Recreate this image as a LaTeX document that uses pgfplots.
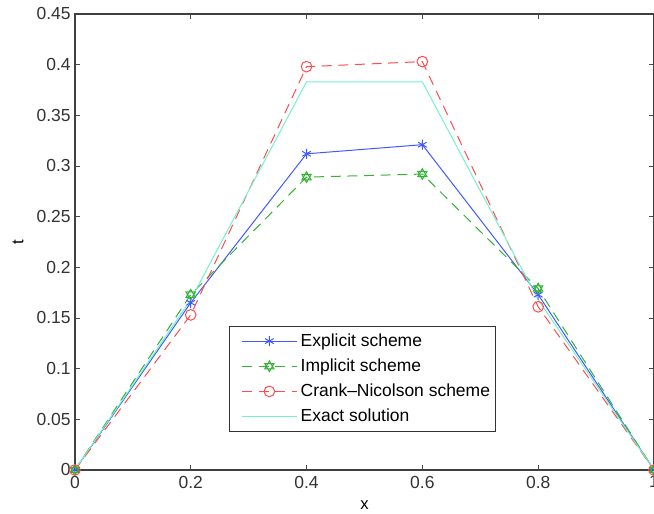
\documentclass[border=0pt]{standalone}
\usepackage{fontspec}
\setmainfont{Liberation Sans}
\usepackage{pgfplots}
\pgfplotsset{compat=1.18}
\usetikzlibrary{plotmarks}

\definecolor{mblue}{rgb}{0.25,0.35,1}
\definecolor{mgreen}{rgb}{0.2,0.7,0.2}
\definecolor{mred}{rgb}{1,0.3,0.3}
\definecolor{mexact}{rgb}{0.45,0.95,0.8}

% hexagram marker like MATLAB 'h'
\pgfdeclareplotmark{hexagram}{%
  \pgfpathmoveto{\pgfqpointpolar{90}{\pgfplotmarksize}}%
  \pgfpathlineto{\pgfqpointpolar{210}{\pgfplotmarksize}}%
  \pgfpathlineto{\pgfqpointpolar{330}{\pgfplotmarksize}}%
  \pgfpathclose
  \pgfpathmoveto{\pgfqpointpolar{270}{\pgfplotmarksize}}%
  \pgfpathlineto{\pgfqpointpolar{30}{\pgfplotmarksize}}%
  \pgfpathlineto{\pgfqpointpolar{150}{\pgfplotmarksize}}%
  \pgfpathclose
  \pgfusepathqstroke}

\begin{document}
\begin{tikzpicture}
\begin{axis}[
    scale only axis,
    width=348pt, height=274pt,
    xmin=0, xmax=1, ymin=0, ymax=0.45,
    xtick={0,0.2,...,1}, ytick={0,0.05,...,0.45},
    tick align=inside,
    major tick length=3pt,
    axis line style={black!75, line width=0.8pt},
    every tick/.style={black!70},
    tick label style={font=\fontsize{10.5}{12}\selectfont, text=black!80},
    /pgf/number format/assume math mode=true,
    yticklabel style={/pgf/number format/fixed, /pgf/number format/precision=2, xshift=1pt},
    xticklabel style={/pgf/number format/fixed},
    xlabel={x}, ylabel={t},
    label style={font=\fontsize{10.5}{12}\selectfont, text=black!80},
    every axis x label/.style={at={(axis description cs:0.5,-0.077)}, anchor=center},
    every axis y label/.style={at={(axis description cs:-0.098,0.5)}, anchor=center, rotate=90},
    legend style={at={(0.266,0.083)}, anchor=south west,
        font=\fontsize{10.5}{12}\selectfont, draw=black!80, line width=0.6pt,
        inner sep=1.5pt, cells={anchor=west},
        nodes={inner ysep=3pt, inner xsep=2pt}},
    legend cell align=left,
    legend image code/.code={%
      \path (0cm,0cm);
      \draw[mark repeat=2, mark phase=2, line width=0.6pt]
        plot coordinates {(0.2cm,0cm) (0.78cm,0cm) (1.36cm,0cm)};},
]
\addplot[mblue, line width=0.6pt, mark=asterisk, mark size=3pt, mark options={solid}]
  coordinates {(0,0) (0.2,0.165) (0.4,0.312) (0.6,0.321) (0.8,0.173) (1,0)};
\addplot[mgreen, line width=0.6pt, dash pattern=on 6pt off 4pt, mark=hexagram, mark size=3.2pt, mark options={solid}]
  coordinates {(0,0) (0.2,0.173) (0.4,0.289) (0.6,0.292) (0.8,0.179) (1,0)};
\addplot[mred, line width=0.6pt, dash pattern=on 6pt off 4pt, mark=o, mark size=3.2pt, mark options={solid}]
  coordinates {(0,0) (0.2,0.153) (0.4,0.398) (0.6,0.403) (0.8,0.161) (1,0)};
\addplot[mexact, line width=0.6pt]
  coordinates {(0,0) (0.2,0.168) (0.4,0.383) (0.6,0.383) (0.8,0.168) (1,0)};
\legend{Explicit scheme, Implicit scheme, Crank--Nicolson scheme, Exact solution}
\end{axis}
\pgfresetboundingbox
\useasboundingbox ([xshift=-45pt,yshift=-26pt]current axis.south west)
  rectangle ([yshift=8.4pt]current axis.north east);
\end{tikzpicture}
\end{document}
